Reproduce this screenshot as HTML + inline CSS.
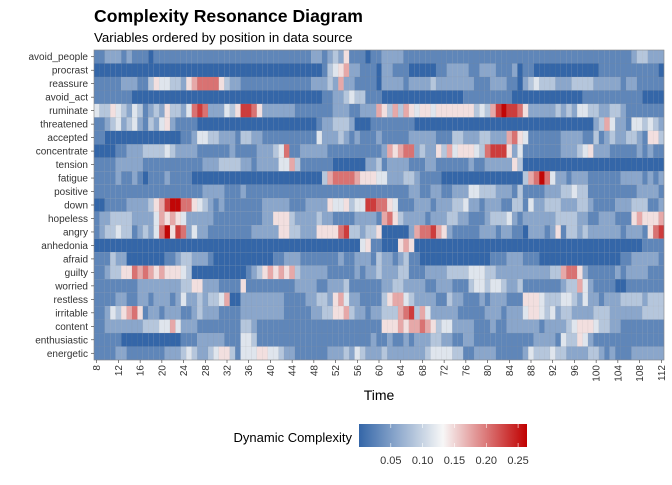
<!DOCTYPE html>
<html><head><meta charset="utf-8"><style>
body{margin:0;background:#fff;font-family:"Liberation Sans",sans-serif;}
svg text{font-family:"Liberation Sans",sans-serif;}
</style></head><body>
<svg id="chart" width="672" height="480" viewBox="0 0 672 480" xmlns="http://www.w3.org/2000/svg">
<text x="94" y="22" font-size="17.6" font-weight="bold" fill="#000">Complexity Resonance Diagram</text>
<text x="94" y="42" font-size="13.3" fill="#000">Variables ordered by position in data source</text>
<g id="cells"></g>
<g id="yaxis"></g>
<g id="xaxis"></g>
<text x="379" y="400" font-size="14" text-anchor="middle" fill="#000">Time</text>
<g id="legend"></g>
</svg>
<script>
const variables = ["avoid_people","procrast","reassure","avoid_act","ruminate","threatened","accepted","concentrate","tension","fatigue","positive","down","hopeless","angry","anhedonia","afraid","guilty","worried","restless","irritable","content","enthusiastic","energetic"];
const times = []; for (let t = 8; t <= 112; t++) times.push(t);
const xTickLabels = [8,12,16,20,24,28,32,36,40,44,48,52,56,60,64,68,72,76,80,84,88,92,96,100,104,108,112];
const legendTicks = [0.05,0.10,0.15,0.20,0.25];
// levels 0-9 per time step (value = level * 0.029)
const rowLevels = [
"112221211101111111111111111" + "11111111111112212325111011" + "22221111111111111111111111" + "11111111111111111111233222",
"000000000000000000000000000" + "00000000000000013456221110" + "22111000001122221122211120" + "11000000000000111111111110",
"111112221135443325677775322" + "11111111111112223262211110" + "22221222232222222111222110" + "23433322233332222212211111",
"111111100000000000000000000" + "00000000000000011223433111" + "00000000000000011111111100" + "00000000000111111111110000",
"433543243123253324787222435" + "88752222221111111222112226" + "53636545545555555343689887" + "52222232324433223321111111",
"112342342132452111100000000" + "00000000000000122333200011" + "11111100000000000000000000" + "00000000000002364221443432",
"110000000000000011244332221" + "33221111111111422232121112" + "11111222221113322233222675" + "41111112222113123223321553",
"000011222333343222211111121" + "11122234711222221111111111" + "26567723225364555437888524" + "11111112223452221111121211",
"111122222111111111112223333" + "22122224463111111000000223" + "12222111221111112112222253" + "00000000000000000000000000",
"111121121011121111000000000" + "00000000000000036777765554" + "42223321111000000000000000" + "36797422122211111122221212",
"111111111111111111112222111" + "21111111111111111111111111" + "11111221122112224433322213" + "11112223343311111111122221",
"001111222235689977543212111" + "11112222211122225445344887" + "75411122212223342212221133" + "14223332223321111222333112",
"122333322224656542222211111" + "11112255532222322111122221" + "67532222122233221112333421" + "22222233332211222111565556",
"123343312324795872422111111" + "11222225533222555578332335" + "00000267786521111122212211" + "02221251332322222212221578",
"000000000000000000000000000" + "00000000000000000000004511" + "00056500000000000000000000" + "00000000000000000000001111",
"111322000000011233222100000" + "00000011222111111121122213" + "22123110000000000000111222" + "11100000000000000011222221",
"112335576765655543000000000" + "01235656563222221111121223" + "22233111222233334443322222" + "22222336775211111212222111",
"111111112222222233552221111" + "51111111112222112223111111" + "22332222112221113443443223" + "11111112336421111001111111",
"111122112212221242232334600" + "22222222111122332564221111" + "35664322221132211121222111" + "55543334432422122233332333",
"112435675122122211232221111" + "22222222111112233556322122" + "33367836422222111112221222" + "45543423322223332222223333",
"112222222333446422211111111" + "33211111111111111111111111" + "55565667653442222111211222" + "22212222345554332211111111",
"111110000000000011122222111" + "44311111111111111111111121" + "12112122233221122111111111" + "11222214335421111111111111",
"111122111111122234322345531" + "44455443221111112223243222" + "32222222344443311222211111" + "24333433222233212111222222"
];
const vmin = 0, vmid = 0.132, vmax = 0.264;
const lowC=[52,102,168], midC=[247,247,247], highC=[192,0,0];
function color(v){
  let a,b,t;
  if(v<=vmid){a=lowC;b=midC;t=Math.max(0,(v-vmin)/(vmid-vmin));}
  else{a=midC;b=highC;t=Math.min(1,(v-vmid)/(vmax-vmid));}
  const c=a.map((x,i)=>Math.round(x+(b[i]-x)*t));
  return `rgb(${c[0]},${c[1]},${c[2]})`;
}
const NS="http://www.w3.org/2000/svg";
const pL=94,pR=664,pT=50,pB=360;
const nRows=variables.length;
const cw=(pR-pL)/times.length, rh=(pB-pT)/nRows;
const xPos = t => pL + (t - times[0]) * cw;
const yPos = r => pT + r * rh;
const rows = variables;
const cells=document.getElementById('cells');
rows.forEach((name,r)=>{
  const s=(rowLevels[r]||"1").replace(/\s/g,'');
  times.forEach((t,i)=>{
    const d=parseInt(s[i]!==undefined?s[i]:s[s.length-1],10);
    const v=d*0.029;
    const rc=document.createElementNS(NS,'rect');
    rc.setAttribute('x',xPos(t));rc.setAttribute('y',yPos(r));
    rc.setAttribute('width',cw+0.05);rc.setAttribute('height',rh+0.05);
    rc.setAttribute('fill',color(v));
    rc.setAttribute('stroke','rgba(140,140,140,0.25)');rc.setAttribute('stroke-width','0.3');
    
    
    cells.appendChild(rc);
  });
});
const border=document.createElementNS(NS,'rect');
border.setAttribute('x',pL);border.setAttribute('y',pT);border.setAttribute('width',pR-pL);border.setAttribute('height',pB-pT);
border.setAttribute('fill','none');border.setAttribute('stroke','#888');border.setAttribute('stroke-width','0.6');


cells.appendChild(border);
const yaxis=document.getElementById('yaxis');
rows.forEach((name,r)=>{
  const y=yPos(r)+rh/2;
  const tx=document.createElementNS(NS,'text');
  tx.setAttribute('x',88);tx.setAttribute('y',y+3.5);tx.setAttribute('font-size','10');
  tx.setAttribute('text-anchor','end');tx.setAttribute('fill','#333');
  tx.textContent=name;
  
  
  yaxis.appendChild(tx);
  const tk=document.createElementNS(NS,'line');
  tk.setAttribute('x1',91);tk.setAttribute('x2',94);tk.setAttribute('y1',y);tk.setAttribute('y2',y);
  tk.setAttribute('stroke','#333');tk.setAttribute('stroke-width','0.6');
  
  
  yaxis.appendChild(tk);
});
const xaxis=document.getElementById('xaxis');
xTickLabels.forEach(t=>{
  const x=xPos(t)+cw/2;
  const tk=document.createElementNS(NS,'line');
  tk.setAttribute('x1',x);tk.setAttribute('x2',x);tk.setAttribute('y1',pB);tk.setAttribute('y2',pB+3);
  tk.setAttribute('stroke','#333');tk.setAttribute('stroke-width','0.6');
  
  
  xaxis.appendChild(tk);
  const tx=document.createElementNS(NS,'text');
  tx.setAttribute('transform',`translate(${x+3.5},${pB+5}) rotate(-90)`);
  tx.setAttribute('font-size','10');tx.setAttribute('text-anchor','end');tx.setAttribute('fill','#333');
  tx.textContent=t;
  
  
  xaxis.appendChild(tx);
});
const lg=document.getElementById('legend');
const lx0=359,lx1=527,ly0=424,ly1=447;
const defs=document.createElementNS(NS,'defs');
const grad=document.createElementNS(NS,'linearGradient');grad.setAttribute('id','lg');
for(let i=0;i<=20;i++){const v=vmin+(vmax-vmin)*i/20;const st=document.createElementNS(NS,'stop');st.setAttribute('offset',(i/20));st.setAttribute('stop-color',color(v));grad.appendChild(st);}
defs.appendChild(grad);lg.appendChild(defs);
const bar=document.createElementNS(NS,'rect');
bar.setAttribute('x',lx0);bar.setAttribute('y',ly0);bar.setAttribute('width',lx1-lx0);bar.setAttribute('height',ly1-ly0);bar.setAttribute('fill','url(#lg)');


lg.appendChild(bar);
const lxs=v=>lx0+(v-vmin)/(vmax-vmin)*(lx1-lx0);
legendTicks.forEach(v=>{
  const x=lxs(v);
  [[ly0,ly0+4],[ly1-4,ly1]].forEach(([a,b])=>{
    const l=document.createElementNS(NS,'line');
    l.setAttribute('x1',x);l.setAttribute('x2',x);l.setAttribute('y1',a);l.setAttribute('y2',b);
    l.setAttribute('stroke','#fff');l.setAttribute('stroke-width','0.6');
    
    
    lg.appendChild(l);
  });
  const tx=document.createElementNS(NS,'text');
  tx.setAttribute('x',x);tx.setAttribute('y',464);tx.setAttribute('font-size','11');tx.setAttribute('text-anchor','middle');tx.setAttribute('fill','#333');
  tx.textContent=v.toFixed(2);
  
  
  lg.appendChild(tx);
});
const lt=document.createElementNS(NS,'text');
lt.setAttribute('x',352);lt.setAttribute('y',442);lt.setAttribute('font-size','13');lt.setAttribute('text-anchor','end');lt.setAttribute('fill','#000');
lt.textContent='Dynamic Complexity';


lg.appendChild(lt);
</script>
</body></html>
